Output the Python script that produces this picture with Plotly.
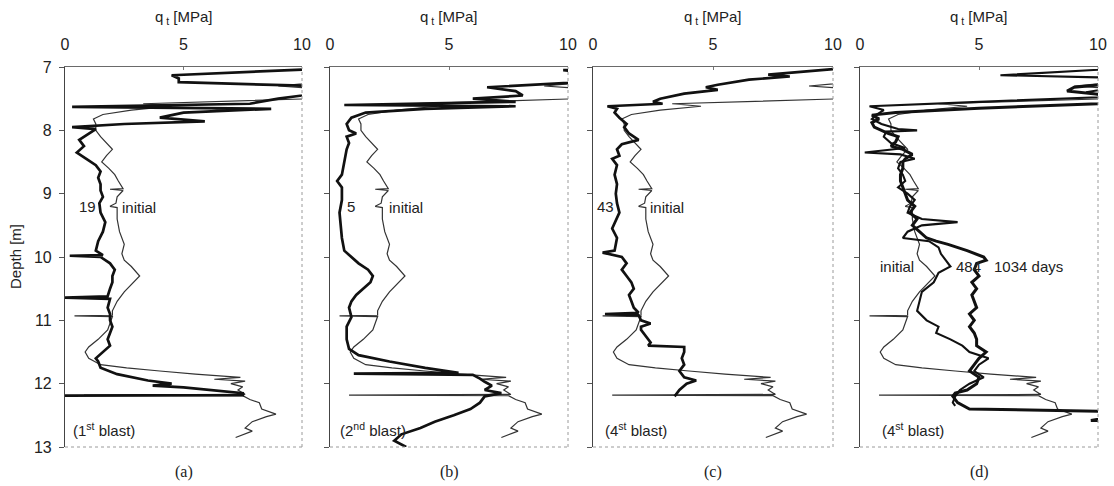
import plotly.graph_objects as go

# ---------------- data (depth [m], q_t [MPa]) ----------------
initial_depth = [7.00, 7.10, 7.20, 7.30, 7.35, 7.45, 7.50, 7.58, 7.62, 7.68, 7.75, 7.82, 7.90, 8.00,
                 8.10, 8.20, 8.30, 8.40, 8.50, 8.60, 8.70, 8.80, 8.92, 8.93, 8.95, 9.05, 9.15, 9.20,
                 9.22, 9.40, 9.60, 9.80, 9.95, 10.05, 10.15, 10.30, 10.40, 10.55, 10.70, 10.85, 10.92,
                 10.93, 10.94, 11.00, 11.15, 11.30, 11.42, 11.50, 11.60, 11.70, 11.75, 11.80, 11.85,
                 11.90, 11.93, 11.96, 12.00, 12.05, 12.10, 12.17, 12.18, 12.19, 12.25, 12.30, 12.40,
                 12.48, 12.52, 12.60, 12.70, 12.75, 12.85]
initial_q = [12.0, 11.0, 12.0, 9.0, 11.0, 12.0, 10.5, 3.3, 4.5, 2.8, 1.6, 1.2, 1.3, 1.3,
             1.5, 1.75, 2.0, 1.75, 1.55, 1.85, 2.1, 2.25, 2.45, 1.9, 2.45, 2.2, 2.15, 1.9,
             2.2, 2.2, 2.3, 2.5, 2.4, 2.5, 2.8, 3.15, 2.9, 2.5, 2.2, 2.0, 2.0,
             0.4, 2.0, 1.95, 1.8, 1.4, 1.0, 0.85, 1.0, 1.5, 2.6, 4.0, 5.5,
             7.4, 6.3, 7.6, 7.0, 7.5, 7.3, 7.6, 0.8, 7.5, 7.8, 8.2, 8.3,
             8.9, 8.5, 7.9, 7.6, 7.9, 7.2]

blast1_depth = [7.00, 7.04, 7.13, 7.18, 7.24, 7.30, 7.40, 7.50, 7.58, 7.63, 7.66, 7.72, 7.80, 7.86,
                7.90, 7.95, 7.98, 8.05, 8.15, 8.25, 8.35, 8.45, 8.55, 8.65, 8.75, 8.85, 8.95, 9.05,
                9.15, 9.30, 9.45, 9.60, 9.75, 9.90, 9.97, 9.98, 10.00, 10.10, 10.20, 10.30, 10.40,
                10.50, 10.62, 10.64, 10.66, 10.80, 10.90, 11.00, 11.10, 11.20, 11.30, 11.40, 11.50,
                11.60, 11.65, 11.75, 11.85, 11.95, 12.00, 12.03, 12.06, 12.10, 12.15, 12.18, 12.19]
blast1_q = [12.0, 10.0, 4.5, 4.8, 4.8, 10.5, 11.0, 9.0, 7.8, 0.3, 8.7, 5.0, 4.0, 5.9,
            2.5, 0.3, 1.3, 1.0, 0.6, 0.8, 0.5, 0.9, 1.3, 1.5, 1.4, 1.5, 1.5, 1.6,
            1.45, 1.5, 1.7, 1.6, 1.4, 1.3, 1.6, 0.2, 1.5, 1.9, 2.1, 2.0, 2.0,
            1.9, 1.8, 0.0, 1.9, 1.8, 1.9, 1.9, 2.0, 1.9, 1.8, 1.9, 1.6,
            1.3, 1.4, 1.5, 2.2, 3.5, 4.5, 3.7, 5.0, 6.0, 7.5, 7.5, 0.0]

blast2_depth = [7.00, 7.05, 7.08, 7.15, 7.25, 7.32, 7.38, 7.45, 7.50, 7.55, 7.60, 7.62, 7.66, 7.72,
                7.80, 7.90, 8.00, 8.05, 8.10, 8.20, 8.30, 8.50, 8.70, 8.80, 8.90, 9.10, 9.30, 9.50,
                9.70, 9.90, 10.00, 10.10, 10.20, 10.30, 10.40, 10.50, 10.60, 10.70, 10.80, 10.95,
                11.10, 11.30, 11.45, 11.55, 11.65, 11.75, 11.83, 11.84, 11.86, 11.92, 11.97, 12.03,
                12.10, 12.15, 12.20, 12.30, 12.40, 12.50, 12.60, 12.70, 12.80, 12.90, 13.00]
blast2_q = [12.0, 9.8, 10.5, 12.0, 10.0, 6.6, 7.8, 8.1, 6.0, 7.8, 0.6, 7.8, 4.0, 1.5,
            0.9, 0.7, 0.8, 1.1, 0.7, 0.8, 0.7, 0.6, 0.5, 0.3, 0.5, 0.5, 0.4, 0.45,
            0.5, 0.6, 0.9, 1.2, 1.6, 1.8, 1.7, 1.4, 1.1, 0.9, 0.8, 0.9,
            0.7, 0.7, 0.8, 1.2, 2.5, 4.0, 5.4, 1.0, 6.0, 6.3, 6.5, 6.8,
            6.5, 7.2, 6.5, 6.3, 5.9, 5.2, 4.4, 3.8, 3.0, 2.7, 3.2]

blast4_depth = [7.00, 7.05, 7.12, 7.15, 7.20, 7.28, 7.32, 7.36, 7.42, 7.50, 7.55, 7.58, 7.62, 7.66,
                7.72, 7.80, 7.90, 7.95, 8.05, 8.15, 8.22, 8.30, 8.40, 8.45, 8.55, 8.70, 8.85, 9.00,
                9.15, 9.30, 9.45, 9.55, 9.70, 9.90, 9.93, 10.00, 10.10, 10.20, 10.30, 10.40, 10.50,
                10.60, 10.70, 10.80, 10.88, 10.90, 10.92, 11.00, 11.05, 11.10, 11.15, 11.25, 11.35,
                11.40, 11.42, 11.50, 11.60, 11.70, 11.80, 11.90, 11.95, 12.00, 12.10, 12.20]
blast4_q = [11.0, 9.5, 7.3, 8.2, 6.5, 5.2, 4.7, 5.2, 3.8, 2.8, 2.5, 2.9, 0.6, 1.0,
            0.9, 1.1, 1.4, 1.3, 1.5, 1.9, 1.2, 1.0, 1.1, 0.8, 1.0, 0.9, 1.0, 0.95,
            1.0, 1.1, 0.9, 0.8, 1.0, 0.9, 0.4, 1.2, 1.4, 1.2, 1.4, 1.6, 1.7,
            1.5, 1.6, 1.7, 1.9, 0.5, 1.9, 2.0, 2.4, 2.0, 2.0, 2.2, 2.4,
            2.3, 3.8, 3.8, 3.7, 3.8, 3.6, 3.8, 4.3, 3.9, 3.6, 3.4]

days484_depth = [7.00, 7.13, 7.18, 7.30, 7.40, 7.47, 7.55, 7.62, 7.68, 7.75, 7.82, 7.90, 7.98, 8.00,
                 8.02, 8.10, 8.20, 8.28, 8.35, 8.38, 8.45, 8.50, 8.60, 8.70, 8.80, 8.90, 9.00, 9.10,
                 9.20, 9.30, 9.40, 9.45, 9.50, 9.60, 9.70, 9.75, 9.85, 9.95, 10.05, 10.15, 10.25,
                 10.40, 10.55, 10.70, 10.85, 11.00, 11.10, 11.20, 11.30, 11.40, 11.50, 11.60, 11.70,
                 11.80, 11.90, 12.00, 12.10, 12.20, 12.30, 12.35]
days484_q = [12.0, 5.9, 12.0, 11.0, 9.5, 10.5, 5.0, 0.4, 1.0, 0.7, 0.5, 0.9, 1.6, 2.4,
             1.1, 1.0, 1.3, 1.9, 0.2, 1.7, 2.3, 1.7, 1.6, 1.8, 1.9, 1.6, 2.0, 2.3,
             2.1, 2.0, 2.6, 4.1, 2.6, 2.0, 1.8, 2.9, 3.3, 3.4, 3.6, 3.8, 3.3,
             3.1, 2.6, 2.5, 2.4, 2.8, 3.3, 3.2, 3.8, 4.3, 4.6, 5.4, 5.0,
             4.8, 5.2, 4.6, 4.2, 4.0, 3.9, 4.0]

days1034_depth = [7.00, 7.25, 7.32, 7.38, 7.45, 7.55, 7.58, 7.65, 7.72, 7.76, 7.82, 7.88, 7.95, 8.00,
                  8.05, 8.10, 8.18, 8.25, 8.30, 8.38, 8.45, 8.50, 8.60, 8.70, 8.80, 8.90, 9.00, 9.10,
                  9.20, 9.30, 9.40, 9.50, 9.60, 9.70, 9.75, 9.80, 9.90, 10.00, 10.05, 10.10, 10.20,
                  10.30, 10.40, 10.50, 10.60, 10.70, 10.80, 10.90, 11.00, 11.10, 11.20, 11.30, 11.40,
                  11.50, 11.60, 11.70, 11.80, 11.90, 12.00, 12.10, 12.15, 12.20, 12.30, 12.40, 12.43,
                  12.45, 12.58, 12.60]
days1034_q = [12.0, 11.0, 9.0, 8.7, 10.5, 10.5, 10.0, 5.0, 1.5, 0.5, 0.8, 0.5, 0.6, 0.9,
              1.2, 1.6, 1.5, 1.3, 1.8, 2.2, 1.9, 1.8, 1.8, 1.7, 1.7, 1.8, 1.9, 2.0,
              2.3, 2.1, 2.4, 2.2, 2.5, 2.8, 3.2, 3.7, 4.5, 5.2, 5.3, 4.9, 4.8,
              5.0, 4.7, 4.9, 4.7, 4.8, 4.9, 4.6, 4.8, 4.6, 4.8, 4.9, 4.9,
              5.3, 5.0, 4.8, 4.6, 5.0, 4.9, 4.5, 4.0, 3.9, 4.1, 4.6, 10.0,
              12.0, 9.7, 12.0]

panel_labels = ["(a)", "(b)", "(c)", "(d)"]
blast_labels = ["(1<sup>st</sup> blast)", "(2<sup>nd</sup> blast)", "(4<sup>st</sup> blast)", "(4<sup>st</sup> blast)"]
q_ticks = [0, 5, 10]
depth_ticks = [7, 8, 9, 10, 11, 12, 13]

# ---------------- layout geometry ----------------
W, H = 1114, 486
x_px = [(65, 302), (330, 568), (593, 833), (860, 1098)]
y_top, y_bot = 67, 447
ydom = [(H - y_bot) / H, (H - y_top) / H]

FONT = "Liberation Sans, Arial, sans-serif"
SERIF = "Liberation Serif, Times New Roman, serif"
BLACK = "#111111"
GREY = "#333333"

fig = go.Figure()

panels = [
    [(initial_depth, initial_q, GREY, 1.2), (blast1_depth, blast1_q, BLACK, 2.7)],
    [(initial_depth, initial_q, GREY, 1.2), (blast2_depth, blast2_q, BLACK, 2.7)],
    [(initial_depth, initial_q, GREY, 1.2), (blast4_depth, blast4_q, BLACK, 2.7)],
    [(initial_depth, initial_q, GREY, 1.2), (days484_depth, days484_q, BLACK, 2.1),
     (days1034_depth, days1034_q, BLACK, 3.0)],
]

layout_axes = {}
for i, traces in enumerate(panels):
    n = "" if i == 0 else str(i + 1)
    xa, ya = "x" + n, "y" + n
    for d, q, col, w in traces:
        fig.add_trace(go.Scatter(x=q, y=d, mode="lines", xaxis=xa, yaxis=ya,
                                 line=dict(color=col, width=w), showlegend=False,
                                 hoverinfo="skip"))
    x0, x1 = x_px[i]
    layout_axes["xaxis" + n] = dict(
        domain=[x0 / W, x1 / W], range=[0, 10], side="top", anchor=ya,
        tickvals=q_ticks, ticktext=[str(v) for v in q_ticks],
        ticks="inside", ticklen=3, tickcolor="#777",
        showline=True, linecolor="#6a6a6a", linewidth=1,
        showgrid=False, zeroline=False, fixedrange=True,
        tickfont=dict(family=FONT, size=16, color="#222"),
        ticklabelstandoff=10,
    )
    layout_axes["yaxis" + n] = dict(
        domain=ydom, range=[13, 7], anchor=xa,
        tickvals=depth_ticks, ticktext=[str(v) for v in depth_ticks],
        showticklabels=(i == 0),
        ticks="outside", ticklen=5, tickcolor="#555",
        showline=True, linecolor="#444", linewidth=1.2,
        showgrid=False, zeroline=False, fixedrange=True,
        tickfont=dict(family=FONT, size=16, color="#222"),
        ticklabelstandoff=4,
    )

fig.update_layout(**layout_axes)

shapes = []
annotations = []
for i in range(4):
    n = "" if i == 0 else str(i + 1)
    xa, ya = "x" + n, "y" + n
    # dotted right and bottom borders
    shapes.append(dict(type="line", xref=xa + " domain", yref=ya + " domain",
                       x0=1, x1=1, y0=0, y1=1, line=dict(color="#9a9a9a", width=1, dash="dot")))
    shapes.append(dict(type="line", xref=xa + " domain", yref=ya + " domain",
                       x0=0, x1=1, y0=0, y1=0, line=dict(color="#9a9a9a", width=1, dash="dot")))
    x0, x1 = x_px[i]
    cx = (x0 + x1) / 2 / W
    annotations.append(dict(text="q<sub> t</sub> [MPa]", x=cx, y=1 - 17 / H, xref="paper", yref="paper",
                            showarrow=False, font=dict(family=FONT, size=15, color="#222"),
                            xanchor="center", yanchor="middle"))
    annotations.append(dict(text=panel_labels[i], x=cx, y=1 - 472 / H, xref="paper", yref="paper",
                            showarrow=False, font=dict(family=SERIF, size=16, color="#222"),
                            xanchor="center", yanchor="middle"))
    bx = [0.25, 0.35, 0.4, 0.85][i]
    annotations.append(dict(text=blast_labels[i], x=bx, y=12.73, xref=xa, yref=ya,
                            showarrow=False, font=dict(family=FONT, size=15, color="#222"),
                            xanchor="left", yanchor="middle"))

def lab(text, x, y, i):
    n = "" if i == 0 else str(i + 1)
    return dict(text=text, x=x, y=y, xref="x" + n, yref="y" + n, showarrow=False,
                font=dict(family=FONT, size=15, color="#222"), xanchor="left", yanchor="middle")

annotations += [
    lab("19", 0.5, 9.2, 0), lab("initial", 2.3, 9.22, 0),
    lab("5", 0.65, 9.2, 1), lab("initial", 2.4, 9.22, 1),
    lab("43", 0.1, 9.2, 2), lab("initial", 2.3, 9.22, 2),
    lab("initial", 0.75, 10.15, 3), lab("484", 3.95, 10.15, 3), lab("1034 days", 5.55, 10.15, 3),
]

annotations.append(dict(text="Depth [m]", x=15 / W, y=(ydom[0] + ydom[1]) / 2, xref="paper", yref="paper",
                        textangle=-90, showarrow=False, font=dict(family=FONT, size=15, color="#222"),
                        xanchor="center", yanchor="middle"))

fig.update_layout(
    width=W, height=H, template="none",
    margin=dict(l=0, r=0, t=0, b=0, autoexpand=False),
    paper_bgcolor="white", plot_bgcolor="white",
    shapes=shapes, annotations=annotations, showlegend=False,
)

fig.write_html("out.html", config={"displayModeBar": False},
               post_script="document.body.style.margin='0';document.body.style.overflow='hidden';")
